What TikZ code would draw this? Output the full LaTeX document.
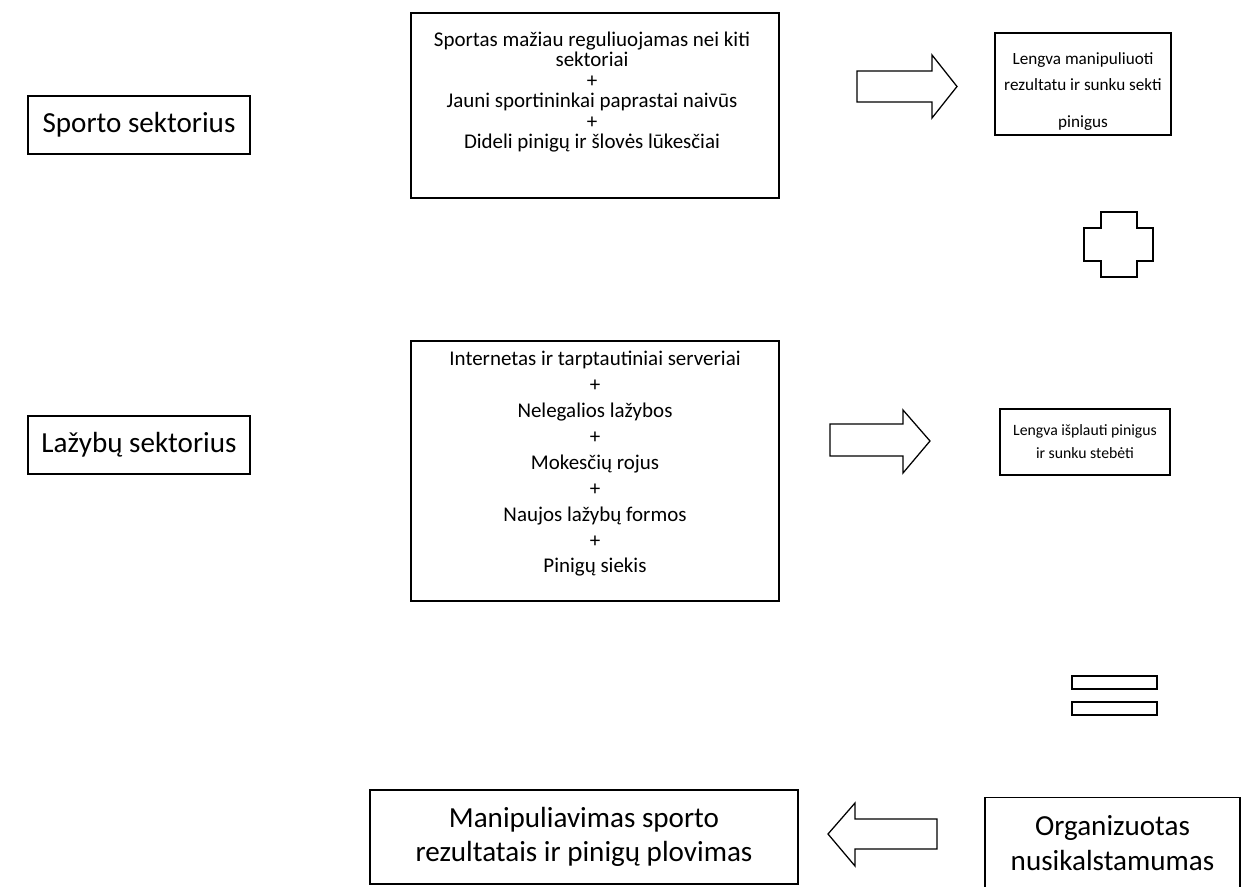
\documentclass[tikz,border=0pt]{standalone}
\usepackage{fontspec}
\setmainfont{Carlito}
\newcommand{\bigtxt}{\fontsize{20.7}{24.5}\selectfont}
\newcommand{\boxtxt}{\fontsize{14.9}{14.6}\selectfont}
\newcommand{\listtxt}{\fontsize{14.9}{18.4}\selectfont}
\newcommand{\sidetxt}{\fontsize{12.2}{18.4}\selectfont}
\newcommand{\smalltxt}{\fontsize{11.2}{16.3}\selectfont}

\begin{document}
\begin{tikzpicture}[x=0.025cm,y=-0.025cm,
	box/.style={draw,line width=1.3pt,inner sep=0pt},
	blockarrow/.style={draw,line width=0.9pt,line join=miter}]
	\clip (0,0) rectangle (1245,887);
	\fill [white] (0,0) rectangle (1245,887);

	\node [box,minimum width=5.55cm,minimum height=1.45cm,font=\bigtxt] (sporto) at (139,125) {Sporto sektorius};
	\node [box,minimum width=5.55cm,minimum height=1.45cm,font=\bigtxt] (lazybu) at (139,445) {Lažybų sektorius};

	\node [box,minimum width=9.2cm,minimum height=4.625cm] (sportas) at (595,105.5) {};
	\node [align=center,font=\boxtxt] (sportastxt) at (592,92) {Sportas mažiau reguliuojamas nei kiti\\sektoriai\\+\\Jauni sportininkai paprastai naivūs\\+\\Dideli pinigų ir šlovės lūkesčiai};

	\node [box,minimum width=9.2cm,minimum height=6.5cm] (internetas) at (595,471) {};
	\node [align=center,font=\listtxt] (internetastxt) at (595,464) {Internetas ir tarptautiniai serveriai\\+\\Nelegalios lažybos\\+\\Mokesčių rojus\\+\\Naujos lažybų formos\\+\\Pinigų siekis};

	\begin{scope}
		\clip (995,33) rectangle (1171,135);
		\node [align=center,font=\sidetxt] (manipuliuotitxt) at (1083,92) {Lengva manipuliuoti\\rezultatu ir sunku sekti\\[8pt]pinigus};
	\end{scope}
	\node [box,minimum width=4.4cm,minimum height=2.55cm] (manipuliuoti) at (1083,84) {};

	\node [box,minimum width=4.25cm,minimum height=1.65cm,align=center,font=\smalltxt] (isplauti) at (1085,442) {Lengva išplauti pinigus\\ir sunku stebėti};

	\node [box,minimum width=10.7cm,minimum height=2.35cm,align=center,font=\bigtxt] (plovimas) at (584,837) {Manipuliavimas sporto\\rezultatais ir pinigų plovimas};
	\node [box,minimum width=6.375cm,minimum height=2.275cm,align=center,font=\bigtxt] (nusikalstamumas) at (1112.5,843) {Organizuotas\\nusikalstamumas};

	\draw [blockarrow] (857,71) -- (932,71) -- (932,55) -- (957,86.5) -- (932,118) -- (932,102) -- (857,102) -- cycle;
	\draw [blockarrow] (830,424) -- (903,424) -- (903,410) -- (930,441) -- (903,473) -- (903,456) -- (830,456) -- cycle;
	\draw [blockarrow] (937,819) -- (855,819) -- (855,803) -- (828,834) -- (855,866) -- (855,849) -- (937,849) -- cycle;

	\draw [blockarrow,line width=1.2pt] (1101,212) -- (1137,212) -- (1137,228) -- (1153,228) -- (1153,261) -- (1137,261) -- (1137,277) -- (1101,277) -- (1101,261) -- (1084,261) -- (1084,228) -- (1101,228) -- cycle;
	\foreach \y in {676,702}
		\draw [blockarrow,line width=1.3pt] (1072,\y) rectangle (1157,\y+13);
\end{tikzpicture}
\end{document}
